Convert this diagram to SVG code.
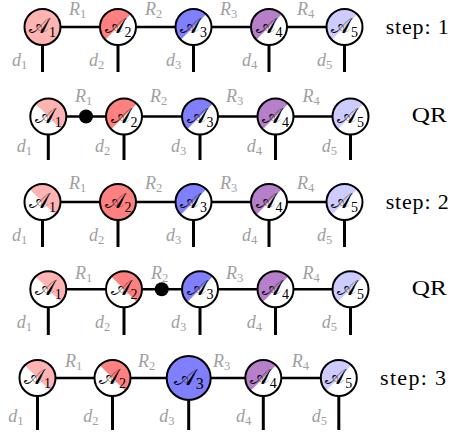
<svg xmlns="http://www.w3.org/2000/svg" width="454" height="434" viewBox="0 0 454 434">
<defs>
<path id="half" d="M-18,0A18,18 0 0 1 18,0Z"/>
</defs>
<style>
.bond{stroke:#000;stroke-width:2.6;fill:none}
.leg{stroke:#000;stroke-width:3;fill:none}
.ring{fill:none;stroke:#000;stroke-width:2}
.bg{fill:#fff}
.pk{fill:#ffb3b3}.rd{fill:#ff8080}.bl{fill:#8080ff}.pu{fill:#b57fca}.lb{fill:#ccccff}
.ul{transform:rotate(-45deg)}.ur{transform:rotate(45deg)}
.lbl text{font-style:italic;font-size:18px;fill:#a0a0a0}
.lbl tspan{font-style:normal;font-size:12.5px}
.A{font-size:21px;fill:#000}
.As{font-size:14px}
.step text{font-size:22px;fill:#000}
.dot{fill:#000}
</style>
<rect width="454" height="434" fill="#fff"/>
<g id="connectors">
<line class="bond" x1="42.5" y1="27" x2="344.5" y2="27"/>
<line class="leg" x1="42.5" y1="45" x2="42.5" y2="72"/>
<line class="leg" x1="118" y1="45" x2="118" y2="72"/>
<line class="leg" x1="193.5" y1="45" x2="193.5" y2="72"/>
<line class="leg" x1="269" y1="45" x2="269" y2="72"/>
<line class="leg" x1="344.5" y1="45" x2="344.5" y2="72"/>
<line class="bond" x1="48.3" y1="116.5" x2="350.5" y2="116.5"/>
<line class="leg" x1="48.3" y1="134.5" x2="48.3" y2="160"/>
<line class="leg" x1="124" y1="134.5" x2="124" y2="160"/>
<line class="leg" x1="200" y1="134.5" x2="200" y2="160"/>
<line class="leg" x1="275.5" y1="134.5" x2="275.5" y2="160"/>
<line class="leg" x1="350.5" y1="134.5" x2="350.5" y2="160"/>
<line class="bond" x1="42.5" y1="202" x2="344.5" y2="202"/>
<line class="leg" x1="42.5" y1="220" x2="42.5" y2="247"/>
<line class="leg" x1="118" y1="220" x2="118" y2="247"/>
<line class="leg" x1="193.5" y1="220" x2="193.5" y2="247"/>
<line class="leg" x1="269" y1="220" x2="269" y2="247"/>
<line class="leg" x1="344.5" y1="220" x2="344.5" y2="247"/>
<line class="bond" x1="48.3" y1="289.2" x2="350.5" y2="289.2"/>
<line class="leg" x1="48.3" y1="307" x2="48.3" y2="335"/>
<line class="leg" x1="124" y1="307" x2="124" y2="335"/>
<line class="leg" x1="200" y1="307" x2="200" y2="335"/>
<line class="leg" x1="275.5" y1="307" x2="275.5" y2="335"/>
<line class="leg" x1="350.5" y1="307" x2="350.5" y2="335"/>
<line class="bond" x1="37.5" y1="378" x2="338.8" y2="378"/>
<line class="leg" x1="37.5" y1="396" x2="37.5" y2="430"/>
<line class="leg" x1="112.5" y1="396" x2="112.5" y2="430"/>
<line class="leg" x1="188.7" y1="400" x2="188.7" y2="430"/>
<line class="leg" x1="263.3" y1="396" x2="263.3" y2="430"/>
<line class="leg" x1="338.8" y1="396" x2="338.8" y2="430"/>
</g>
<g id="labels" class="lbl" font-family="'Liberation Serif', 'Times New Roman', serif">
<text x="69" y="15">R<tspan dy="3">1</tspan></text>
<text x="145" y="15">R<tspan dy="3">2</tspan></text>
<text x="220" y="15">R<tspan dy="3">3</tspan></text>
<text x="297" y="15">R<tspan dy="3">4</tspan></text>
<text x="12" y="66">d<tspan dy="3">1</tspan></text>
<text x="89" y="66">d<tspan dy="3">2</tspan></text>
<text x="166" y="66">d<tspan dy="3">3</tspan></text>
<text x="242" y="66">d<tspan dy="3">4</tspan></text>
<text x="317" y="66">d<tspan dy="3">5</tspan></text>
<text x="75" y="101.5">R<tspan dy="3">1</tspan></text>
<text x="150" y="101.5">R<tspan dy="3">2</tspan></text>
<text x="226" y="101.5">R<tspan dy="3">3</tspan></text>
<text x="302.5" y="101.5">R<tspan dy="3">4</tspan></text>
<text x="16.7" y="151.5">d<tspan dy="3">1</tspan></text>
<text x="95" y="151.5">d<tspan dy="3">2</tspan></text>
<text x="171" y="151.5">d<tspan dy="3">3</tspan></text>
<text x="246.7" y="151.5">d<tspan dy="3">4</tspan></text>
<text x="321.7" y="151.5">d<tspan dy="3">5</tspan></text>
<text x="69" y="189">R<tspan dy="3">1</tspan></text>
<text x="145" y="189">R<tspan dy="3">2</tspan></text>
<text x="220" y="189">R<tspan dy="3">3</tspan></text>
<text x="297" y="189">R<tspan dy="3">4</tspan></text>
<text x="12" y="241">d<tspan dy="3">1</tspan></text>
<text x="89" y="241">d<tspan dy="3">2</tspan></text>
<text x="166" y="241">d<tspan dy="3">3</tspan></text>
<text x="242" y="241">d<tspan dy="3">4</tspan></text>
<text x="317" y="241">d<tspan dy="3">5</tspan></text>
<text x="75" y="278.5">R<tspan dy="3">1</tspan></text>
<text x="151" y="278.5">R<tspan dy="3">2</tspan></text>
<text x="226" y="278.5">R<tspan dy="3">3</tspan></text>
<text x="302.5" y="278.5">R<tspan dy="3">4</tspan></text>
<text x="16.7" y="328">d<tspan dy="3">1</tspan></text>
<text x="95" y="328">d<tspan dy="3">2</tspan></text>
<text x="171" y="328">d<tspan dy="3">3</tspan></text>
<text x="246.7" y="328">d<tspan dy="3">4</tspan></text>
<text x="321.7" y="328">d<tspan dy="3">5</tspan></text>
<text x="65" y="366.5">R<tspan dy="3">1</tspan></text>
<text x="138" y="366.5">R<tspan dy="3">2</tspan></text>
<text x="213" y="366.5">R<tspan dy="3">3</tspan></text>
<text x="291.7" y="366.5">R<tspan dy="3">4</tspan></text>
<text x="8.3" y="421.5">d<tspan dy="3">1</tspan></text>
<text x="83.3" y="421.5">d<tspan dy="3">2</tspan></text>
<text x="159.3" y="421.5">d<tspan dy="3">3</tspan></text>
<text x="236" y="421.5">d<tspan dy="3">4</tspan></text>
<text x="311.7" y="421.5">d<tspan dy="3">5</tspan></text>
</g>
<g id="captions" class="step" font-family="'Liberation Serif', 'Times New Roman', serif">
<text x="385.7" y="33.5" textLength="63" lengthAdjust="spacing">step: 1</text>
<text x="411.7" y="121.5" textLength="35" lengthAdjust="spacingAndGlyphs">QR</text>
<text x="385.7" y="208.5" textLength="63" lengthAdjust="spacing">step: 2</text>
<text x="411.7" y="294.5" textLength="35" lengthAdjust="spacingAndGlyphs">QR</text>
<text x="380" y="385" textLength="66" lengthAdjust="spacing">step: 3</text>
</g>
<g id="nodes" font-family="'Liberation Serif', 'DejaVu Serif', serif">
<!-- Row 1 -->
<g id="r1-A1" transform="translate(42.5,27)"><circle r="18" class="pk"/><circle r="18" class="ring"/><text class="A" y="6" text-anchor="middle">𝒜<tspan class="As" dy="4">1</tspan></text></g>
<g id="r1-A2" transform="translate(118,27)"><circle r="18" class="bg"/><use href="#half" class="rd ul"/><circle r="18" class="ring"/><text class="A" y="6" text-anchor="middle">𝒜<tspan class="As" dy="4">2</tspan></text></g>
<g id="r1-A3" transform="translate(193.5,27)"><circle r="18" class="bg"/><use href="#half" class="bl ul"/><circle r="18" class="ring"/><text class="A" y="6" text-anchor="middle">𝒜<tspan class="As" dy="4">3</tspan></text></g>
<g id="r1-A4" transform="translate(269,27)"><circle r="18" class="bg"/><use href="#half" class="pu ul"/><circle r="18" class="ring"/><text class="A" y="6" text-anchor="middle">𝒜<tspan class="As" dy="4">4</tspan></text></g>
<g id="r1-A5" transform="translate(344.5,27)"><circle r="18" class="bg"/><use href="#half" class="lb ul"/><circle r="18" class="ring"/><text class="A" y="6" text-anchor="middle">𝒜<tspan class="As" dy="4">5</tspan></text></g>
<!-- Row 2 -->
<g id="r2-A1" transform="translate(48.3,116.5)"><circle r="18" class="bg"/><use href="#half" class="pk ur"/><circle r="18" class="ring"/><text class="A" y="6" text-anchor="middle">𝒜<tspan class="As" dy="4">1</tspan></text></g>
<g id="r2-R" transform="translate(86,116.5)"><circle r="7" class="dot"/></g>
<g id="r2-A2" transform="translate(124,116.5)"><circle r="18" class="bg"/><use href="#half" class="rd ul"/><circle r="18" class="ring"/><text class="A" y="6" text-anchor="middle">𝒜<tspan class="As" dy="4">2</tspan></text></g>
<g id="r2-A3" transform="translate(200,116.5)"><circle r="18" class="bg"/><use href="#half" class="bl ul"/><circle r="18" class="ring"/><text class="A" y="6" text-anchor="middle">𝒜<tspan class="As" dy="4">3</tspan></text></g>
<g id="r2-A4" transform="translate(275.5,116.5)"><circle r="18" class="bg"/><use href="#half" class="pu ul"/><circle r="18" class="ring"/><text class="A" y="6" text-anchor="middle">𝒜<tspan class="As" dy="4">4</tspan></text></g>
<g id="r2-A5" transform="translate(350.5,116.5)"><circle r="18" class="bg"/><use href="#half" class="lb ul"/><circle r="18" class="ring"/><text class="A" y="6" text-anchor="middle">𝒜<tspan class="As" dy="4">5</tspan></text></g>
<!-- Row 3 -->
<g id="r3-A1" transform="translate(42.5,202)"><circle r="18" class="bg"/><use href="#half" class="pk ur"/><circle r="18" class="ring"/><text class="A" y="6" text-anchor="middle">𝒜<tspan class="As" dy="4">1</tspan></text></g>
<g id="r3-A2" transform="translate(118,202)"><circle r="18" class="rd"/><circle r="18" class="ring"/><text class="A" y="6" text-anchor="middle">𝒜<tspan class="As" dy="4">2</tspan></text></g>
<g id="r3-A3" transform="translate(193.5,202)"><circle r="18" class="bg"/><use href="#half" class="bl ul"/><circle r="18" class="ring"/><text class="A" y="6" text-anchor="middle">𝒜<tspan class="As" dy="4">3</tspan></text></g>
<g id="r3-A4" transform="translate(269,202)"><circle r="18" class="bg"/><use href="#half" class="pu ul"/><circle r="18" class="ring"/><text class="A" y="6" text-anchor="middle">𝒜<tspan class="As" dy="4">4</tspan></text></g>
<g id="r3-A5" transform="translate(344.5,202)"><circle r="18" class="bg"/><use href="#half" class="lb ul"/><circle r="18" class="ring"/><text class="A" y="6" text-anchor="middle">𝒜<tspan class="As" dy="4">5</tspan></text></g>
<!-- Row 4 -->
<g id="r4-A1" transform="translate(48.3,289.2)"><circle r="18" class="bg"/><use href="#half" class="pk ur"/><circle r="18" class="ring"/><text class="A" y="6" text-anchor="middle">𝒜<tspan class="As" dy="4">1</tspan></text></g>
<g id="r4-A2" transform="translate(124,289.2)"><circle r="18" class="bg"/><use href="#half" class="rd ur"/><circle r="18" class="ring"/><text class="A" y="6" text-anchor="middle">𝒜<tspan class="As" dy="4">2</tspan></text></g>
<g id="r4-R" transform="translate(161.7,289.2)"><circle r="7" class="dot"/></g>
<g id="r4-A3" transform="translate(200,289.2)"><circle r="18" class="bg"/><use href="#half" class="bl ul"/><circle r="18" class="ring"/><text class="A" y="6" text-anchor="middle">𝒜<tspan class="As" dy="4">3</tspan></text></g>
<g id="r4-A4" transform="translate(275.5,289.2)"><circle r="18" class="bg"/><use href="#half" class="pu ul"/><circle r="18" class="ring"/><text class="A" y="6" text-anchor="middle">𝒜<tspan class="As" dy="4">4</tspan></text></g>
<g id="r4-A5" transform="translate(350.5,289.2)"><circle r="18" class="bg"/><use href="#half" class="lb ul"/><circle r="18" class="ring"/><text class="A" y="6" text-anchor="middle">𝒜<tspan class="As" dy="4">5</tspan></text></g>
<!-- Row 5 -->
<g id="r5-A1" transform="translate(37.5,378)"><circle r="18" class="bg"/><use href="#half" class="pk ur"/><circle r="18" class="ring"/><text class="A" y="6" text-anchor="middle">𝒜<tspan class="As" dy="4">1</tspan></text></g>
<g id="r5-A2" transform="translate(112.5,378)"><circle r="18" class="bg"/><use href="#half" class="rd ur"/><circle r="18" class="ring"/><text class="A" y="6" text-anchor="middle">𝒜<tspan class="As" dy="4">2</tspan></text></g>
<g id="r5-A3" transform="translate(188.7,378)"><circle r="22" class="bl"/><circle r="22" class="ring"/><text class="A" y="7" text-anchor="middle" style="font-size:23px">𝒜<tspan class="As" dy="4" style="font-size:16px">3</tspan></text></g>
<g id="r5-A4" transform="translate(263.3,378)"><circle r="18" class="bg"/><use href="#half" class="pu ul"/><circle r="18" class="ring"/><text class="A" y="6" text-anchor="middle">𝒜<tspan class="As" dy="4">4</tspan></text></g>
<g id="r5-A5" transform="translate(338.8,378)"><circle r="18" class="bg"/><use href="#half" class="lb ul"/><circle r="18" class="ring"/><text class="A" y="6" text-anchor="middle">𝒜<tspan class="As" dy="4">5</tspan></text></g>
</g>
</svg>
